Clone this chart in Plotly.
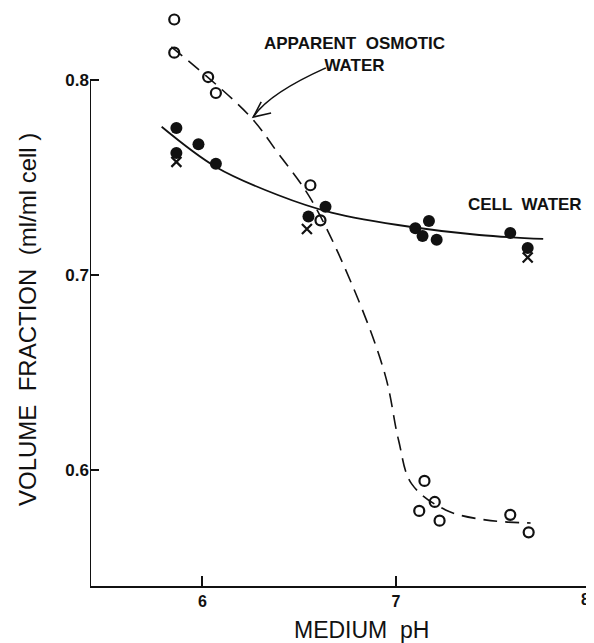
import plotly.graph_objects as go

# ---- data ----
open_ph = [5.855, 5.855, 6.03, 6.07, 6.558, 6.61, 7.147, 7.20, 7.12, 7.225, 7.59, 7.685]
open_val = [0.831, 0.814, 0.8015, 0.7933, 0.746, 0.728, 0.5944, 0.5836, 0.579, 0.574, 0.577, 0.568]

filled_ph = [5.866, 5.866, 5.98, 6.07, 6.548, 6.636, 7.10, 7.17, 7.137, 7.21, 7.59, 7.68]
filled_val = [0.7754, 0.7626, 0.767, 0.757, 0.730, 0.735, 0.724, 0.7277, 0.720, 0.718, 0.7215, 0.7138]

cross_ph = [5.866, 6.54, 7.68]
cross_val = [0.758, 0.7236, 0.709]

cell_fit_ph = [5.79, 6.07, 6.39, 6.667, 7.08, 7.43, 7.76]
cell_fit_val = [0.776, 0.7554, 0.741, 0.732, 0.7246, 0.7205, 0.7185]

osm_fit_ph = [5.84, 6.24, 6.39, 6.563, 6.79, 6.946, 7.013, 7.08, 7.256, 7.46, 7.695]
osm_fit_val = [0.817, 0.782, 0.7626, 0.7385, 0.691, 0.648, 0.6154, 0.593, 0.5795, 0.5744, 0.5728]

x_ticks = [6, 7, 8]
x_ticktext = ["6", "7", "8"]
y_ticks = [0.6, 0.7, 0.8]
y_ticktext = ["0.6", "0.7", "0.8"]

X_MIN, X_MAX = 5.42, 8.012
Y_MIN, Y_MAX, Y_AXIS_TOP = 0.5405, 0.8369, 0.8

FONT = "Liberation Sans, Arial, sans-serif"
BLACK = "#111111"

fig = go.Figure()

fig.add_trace(go.Scatter(
    x=osm_fit_ph, y=osm_fit_val, mode="lines",
    line=dict(color=BLACK, width=1.6, dash="14px,8px", shape="spline", smoothing=1.0),
    hoverinfo="skip", showlegend=False))
fig.add_trace(go.Scatter(
    x=cell_fit_ph, y=cell_fit_val, mode="lines",
    line=dict(color=BLACK, width=1.8, shape="spline", smoothing=1.0),
    hoverinfo="skip", showlegend=False))

fig.add_trace(go.Scatter(
    x=open_ph, y=open_val, mode="markers", cliponaxis=False,
    marker=dict(symbol="circle-open", size=10, color=BLACK, line=dict(width=2.2, color=BLACK)),
    showlegend=False))
fig.add_trace(go.Scatter(
    x=filled_ph, y=filled_val, mode="markers", cliponaxis=False,
    marker=dict(symbol="circle", size=12, color=BLACK),
    showlegend=False))
fig.add_trace(go.Scatter(
    x=cross_ph, y=cross_val, mode="markers", cliponaxis=False,
    marker=dict(symbol="x-thin", size=10, color=BLACK, line=dict(width=2.2, color=BLACK)),
    showlegend=False))

# y axis line (stops at 0.8)
fig.add_shape(type="line", xref="x", yref="y", x0=X_MIN, x1=X_MIN, y0=Y_MIN, y1=Y_AXIS_TOP,
              line=dict(color=BLACK, width=2))

# curved arrow for the annotation
fig.add_shape(type="path", xref="x", yref="y",
              path="M 6.638,0.8062 Q 6.343,0.7931 6.263,0.781",
              line=dict(color=BLACK, width=1.6))
fig.add_shape(type="path", xref="x", yref="y",
              path="M 6.304,0.7887 L 6.263,0.781 L 6.355,0.7831",
              line=dict(color=BLACK, width=1.6))

fig.add_annotation(xref="paper", yref="paper", x=0.5259, y=0.9187,
                   xanchor="center", yanchor="middle",
                   text="<b>APPARENT  OSMOTIC<br>WATER</b>", showarrow=False,
                   font=dict(family=FONT, size=17, color=BLACK), align="center")
fig.add_annotation(xref="paper", yref="paper", x=0.8665, y=0.6592,
                   xanchor="center", yanchor="middle",
                   text="<b>CELL  WATER</b>", showarrow=False,
                   font=dict(family=FONT, size=17, color=BLACK))

fig.add_annotation(xref="paper", yref="paper", x=-0.1255, y=0.4619,
                   xanchor="center", yanchor="middle",
                   text="VOLUME  FRACTION  (ml/ml cell )", textangle=-90, showarrow=False,
                   font=dict(family=FONT, size=24, color=BLACK))
fig.add_annotation(xref="paper", yref="paper", x=0.5418, y=-0.0761,
                   xanchor="center", yanchor="middle",
                   text="MEDIUM  pH", showarrow=False,
                   font=dict(family=FONT, size=23, color=BLACK))

# tick labels: the last one sits at the figure edge, where Plotly hides axis labels,
# so it is drawn as an annotation pinned to its tick value
tick_labels_axis = ["<b>%s</b>" % t for t in x_ticktext[:-1]] + [""]
fig.add_annotation(xref="x", yref="paper", x=x_ticks[-1], y=0,
                   xanchor="center", yanchor="top", xshift=-4, yshift=-3,
                   text="<b>%s</b>" % x_ticktext[-1], showarrow=False,
                   font=dict(family=FONT, size=16, color=BLACK))

fig.update_xaxes(range=[X_MIN, X_MAX], showgrid=False, zeroline=False,
                 showline=True, linecolor=BLACK, linewidth=2,
                 ticks="inside", ticklen=10, tickwidth=2, tickcolor=BLACK,
                 tickvals=x_ticks, ticktext=tick_labels_axis,
                 tickfont=dict(family=FONT, size=16, color=BLACK))
fig.update_yaxes(range=[Y_MIN, Y_MAX], showgrid=False, zeroline=False,
                 showline=False,
                 ticks="inside", ticklen=9, tickwidth=2, tickcolor=BLACK,
                 tickvals=y_ticks, ticktext=["<b>%s</b>" % t for t in y_ticktext],
                 tickfont=dict(family=FONT, size=17, color=BLACK))

# the page body adds an 8px margin, so the figure is sized to the visible area
fig.update_layout(width=586, height=635, margin=dict(l=82, r=2, t=0, b=57),
                  paper_bgcolor="white", plot_bgcolor="white", showlegend=False)

fig.write_html("out.html")
